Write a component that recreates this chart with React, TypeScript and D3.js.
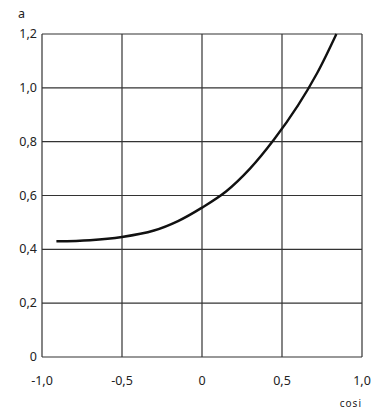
import React, { useEffect, useRef } from 'react';
import * as d3 from 'd3';

// x values (cos i) and a values
const cosValues = [-0.91, -0.7, -0.5, -0.3, -0.15, 0, 0.15, 0.3, 0.45, 0.6, 0.72, 0.84];
const aValues = [0.43, 0.434, 0.446, 0.47, 0.505, 0.555, 0.615, 0.7, 0.808, 0.935, 1.055, 1.2];

const xTicks = [-1, -0.5, 0, 0.5, 1];
const xTickLabels = ['-1,0', '-0,5', '0', '0,5', '1,0'];
const yTicks = [0, 0.2, 0.4, 0.6, 0.8, 1.0, 1.2];
const yTickLabels = ['0', '0,2', '0,4', '0,6', '0,8', '1,0', '1,2'];

const App = () => {
  const svgRef = useRef(null);

  useEffect(() => {
    const svg = d3.select(svgRef.current);
    svg.selectAll('*').remove();

    const margin = { top: 34, right: 10, bottom: 55, left: 42 };
    const W = 372, H = 412;
    const width = W - margin.left - margin.right;
    const height = H - margin.top - margin.bottom;

    const x = d3.scaleLinear().domain([-1, 1]).range([0, width]);
    const y = d3.scaleLinear().domain([0, 1.2]).range([height, 0]);

    const g = svg.append('g').attr('transform', `translate(${margin.left},${margin.top})`);
    const ink = '#333';
    const font = "'Noto Sans', sans-serif";

    // grid lines
    g.selectAll('.vgrid').data(xTicks).enter().append('line')
      .attr('x1', d => x(d)).attr('x2', d => x(d))
      .attr('y1', 0).attr('y2', height)
      .attr('stroke', ink).attr('stroke-width', 1.2);
    g.selectAll('.hgrid').data(yTicks).enter().append('line')
      .attr('y1', d => y(d)).attr('y2', d => y(d))
      .attr('x1', 0).attr('x2', width)
      .attr('stroke', ink).attr('stroke-width', 1.2);

    // tick labels
    g.selectAll('.xl').data(xTicks).enter().append('text')
      .attr('x', d => x(d)).attr('y', height + 28)
      .attr('text-anchor', 'middle')
      .style('font-family', font).style('font-size', '12.5px').attr('fill', '#222')
      .text((d, i) => xTickLabels[i]);
    g.selectAll('.yl').data(yTicks).enter().append('text')
      .attr('x', -5).attr('y', d => y(d) + 4)
      .attr('text-anchor', 'end')
      .style('font-family', font).style('font-size', '12.5px').attr('fill', '#222')
      .text((d, i) => yTickLabels[i]);

    // axis names
    g.append('text').attr('x', -24).attr('y', -16)
      .style('font-family', font).style('font-size', '12.5px').attr('fill', '#222').text('a');
    g.append('text').attr('x', width).attr('y', height + 50)
      .attr('text-anchor', 'end')
      .style('font-family', font).style('font-size', '10px').style('letter-spacing', '1px')
      .attr('fill', '#222').text('cosi');

    // curve
    const pts = cosValues.map((c, i) => [c, aValues[i]] as [number, number]);
    const line = d3.line<[number, number]>()
      .x(d => x(d[0])).y(d => y(d[1]))
      .curve(d3.curveCatmullRom);
    g.append('path').datum(pts)
      .attr('d', line)
      .attr('fill', 'none').attr('stroke', '#111').attr('stroke-width', 2.4);
  }, []);

  return (
    <svg ref={svgRef} width={372} height={412}
      style={{ position: 'absolute', left: 0, top: 0, background: '#fff' }} />
  );
};

export default App;
